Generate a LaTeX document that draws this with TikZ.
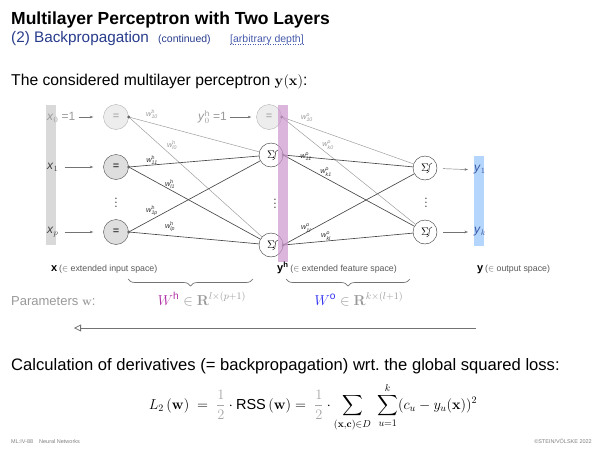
\documentclass[tikz,border=0pt]{standalone}
\usepackage{amsmath}
\usepackage[no-math]{fontspec}
\setmainfont{Liberation Sans}
\usetikzlibrary{arrows.meta,decorations.pathreplacing}

\definecolor{slideblue}{RGB}{40,60,140}
\definecolor{linkblue}{RGB}{70,90,170}
\definecolor{barpurple}{RGB}{205,150,205}
\definecolor{barblue}{RGB}{180,214,252}
\definecolor{wpurple}{RGB}{175,45,165}
\definecolor{wblue}{RGB}{45,45,240}
\definecolor{ylabel}{RGB}{55,85,165}

\newcommand{\wgt}[2]{$\textit{w}^{\textup{#1}}_{\textit{#2}}$}
\newcommand{\fsz}[1]{\fontsize{#1}{#1}\selectfont}

\begin{document}
\begin{tikzpicture}[
    x=1pt, y=-1pt,
    inode/.style={circle, draw=black!70, fill=black!13, minimum size=25pt, inner sep=0pt, font=\fsz{11}},
    biasnode/.style={inode, draw=black!30, fill=black!7, text=black!40},
    neuron/.style={circle, draw=black!80, fill=white, minimum size=24pt, inner sep=0pt, font=\fsz{11},
        path picture={\draw[line width=0.5pt] ([shift={(1.5pt,-5pt)}]path picture bounding box.center)
            .. controls ([shift={(6.5pt,-5pt)}]path picture bounding box.center)
            and ([shift={(2pt,5pt)}]path picture bounding box.center)
            .. ([shift={(7pt,5pt)}]path picture bounding box.center);}},
    outdot/.style={circle, fill=black!60, inner sep=0pt, minimum size=3.2pt},
    wire/.style={black!72, line width=0.65pt},
    biaswire/.style={black!38, line width=0.5pt},
    wlabel/.style={font=\fsz{7.5}, inner sep=0pt, text=black!80},
    wbias/.style={wlabel, text=black!40},
    feed/.style={-{Stealth[length=3.5pt,width=2.5pt]}, black!55, line width=0.45pt},
    inlabel/.style={font=\fsz{12}, inner sep=1pt, text=black!75},
    layerdots/.style={font=\fsz{12}, inner sep=0pt, text=black!75},
    spacelabel/.style={anchor=base west, inner sep=0pt, font=\fsz{11}\bfseries},
    brace/.style={decorate, decoration={brace, amplitude=7pt}, black!55, line width=0.7pt},
    backarrow/.style={-{Triangle[open, length=7pt, width=7pt]}, black!55, line width=0.8pt}
]
    % --- Header ---
    \node[anchor=base west, inner sep=0pt, font=\fsz{17.5}\bfseries] (title) at (11,24) {Multilayer Perceptron with Two Layers};
    \node[anchor=base west, inner sep=0pt, font=\fsz{15.3}, text=slideblue] (sub) at (11,42) {(2) Backpropagation};
    \node[anchor=base west, inner sep=0pt, font=\fsz{10.5}, text=slideblue] (cont) at (158,42) {(continued)};
    \node[anchor=base west, inner sep=0pt, font=\fsz{10.5}, text=linkblue] (depth) at (230,42) {[arbitrary depth]};
    \draw[linkblue, dotted, line width=0.5pt] ([yshift=-2pt]depth.base west) -- ([yshift=-2pt]depth.base east);

    \node[anchor=base west, inner sep=0pt, font=\fsz{15.7}] (intro) at (11,85) {The considered multilayer perceptron $\mathbf{y}(\mathbf{x})$:};

    % --- Input layer ---
    \fill[black!15] (46,105) rectangle (56,245);
    \node[inlabel, anchor=west, text=black!40] (lx0) at (46,117) {\textit{x}$_0$ =1};
    \node[inlabel, anchor=west] (lx1) at (46,167) {\textit{x}$_1$};
    \node[inlabel, anchor=west] (lxp) at (46,232) {\textit{x}$_p$};

    \node[biasnode] (i0) at (116,117) {=};
    \node[inode] (i1) at (116,167) {=};
    \node[inode] (ip) at (116,232) {=};
    \node[layerdots] (idots) at (116,200) {$\vdots$};

    \draw[feed, shorten <=2pt, shorten >=10pt] (lx0) -- (i0);
    \draw[feed, shorten <=5pt, shorten >=10pt] (lx1) -- (i1);
    \draw[feed, shorten <=5pt, shorten >=10pt] (lxp) -- (ip);

    % --- Hidden layer ---
    \node[inlabel, anchor=west, text=black!40] (ly0) at (197,117) {\textit{y}$^{\textup{h}}_0$ =1};
    \node[biasnode] (hb) at (269,117) {=};
    \node[neuron] (h1) at (271,155) {$\Sigma$\hspace{10pt}};
    \node[neuron] (hl) at (271,245) {$\Sigma$\hspace{10pt}};
    \node[layerdots] (hdots) at (275,201) {$\vdots$};
    \draw[feed, shorten <=2pt, shorten >=5pt] (ly0) -- (hb);

    % input -> hidden
    \draw[biaswire] (i0.east) -- (h1);
    \draw[biaswire] (i0.east) -- (hl);
    \draw[wire] (i1.east) -- (h1);
    \draw[wire] (i1.east) -- (hl);
    \draw[wire] (ip.east) -- (h1);
    \draw[wire] (ip.east) -- (hl);

    \node[outdot] (di0) at (i0.east) {};
    \node[outdot] (di1) at (i1.east) {};
    \node[outdot] (dip) at (ip.east) {};

    \node[wbias] (w10h) at (152,114) {\wgt{h}{10}};
    \node[wbias] (wl0h) at (172,145) {\wgt{h}{l0}};
    \node[wlabel] (w11h) at (152,160) {\wgt{h}{11}};
    \node[wlabel] (wl1h) at (170,184) {\wgt{h}{l1}};
    \node[wlabel] (w1ph) at (152,211) {\wgt{h}{1p}};
    \node[wlabel] (wlph) at (170,227) {\wgt{h}{lp}};

    % --- Output layer ---
    \node[neuron] (o1) at (425,168) {$\Sigma$\hspace{10pt}};
    \node[neuron] (ok) at (425,232) {$\Sigma$\hspace{10pt}};
    \node[layerdots] (odots) at (426,200) {$\vdots$};

    % hidden -> output
    \draw[biaswire] (hb.east) -- (o1);
    \draw[biaswire] (hb.east) -- (ok);
    \draw[wire] (h1.east) -- (o1);
    \draw[wire] (h1.east) -- (ok);
    \draw[wire] (hl.east) -- (o1);
    \draw[wire] (hl.east) -- (ok);

    \node[outdot] (dhb) at (hb.east) {};
    \node[outdot] (dh1) at (h1.east) {};
    \node[outdot] (dhl) at (hl.east) {};

    \fill[barpurple, opacity=0.7] (278,105) rectangle (288,262);

    \node[wbias] (w10o) at (307,118) {\wgt{o}{10}};
    \node[wbias] (wk0o) at (328,145) {\wgt{o}{k0}};
    \node[wlabel] (w11o) at (306,157) {\wgt{o}{11}};
    \node[wlabel] (wk1o) at (326,172) {\wgt{o}{k1}};
    \node[wlabel] (w1lo) at (306,228) {\wgt{o}{1l}};
    \node[wlabel] (wklo) at (326,236) {\wgt{o}{kl}};

    \fill[barblue] (474,156) rectangle (484,246);
    \node[inlabel, anchor=west, text=ylabel] (ly1) at (473,170) {\textit{y}$_1$};
    \node[inlabel, anchor=west, text=ylabel] (lyk) at (473,232) {\textit{y}$_k$};
    \draw[feed, shorten <=6pt, shorten >=5pt] (o1) -- (ly1);
    \draw[feed, shorten <=6pt, shorten >=5pt] (ok) -- (lyk);

    % --- Spaces ---
    \node[spacelabel] (sx) at (51,271) {x\,{\mdseries\fsz{8.8}\color{black!65}($\in$ extended input space)}};
    \node[spacelabel] (sh) at (277,271) {y$^{\textup{h}}$\,{\mdseries\fsz{8.8}\color{black!65}($\in$ extended feature space)}};
    \node[spacelabel] (sy) at (477,271) {y\,{\mdseries\fsz{8.8}\color{black!65}($\in$ output space)}};

    % --- Parameters ---
    \draw[brace] (253,279) -- (128,279);
    \draw[brace] (410,279) -- (286,279);
    \node[anchor=base west, inner sep=0pt, font=\fsz{13}, text=black!40] (par) at (11,305) {Parameters $\mathbf{w}$:};
    \node[anchor=base, inner sep=0pt, font=\fsz{14.5}, text=black!40] (wh) at (202,305) {$\textcolor{wpurple}{W^{\text{h}}}\in\mathbf{R}^{l\times(p+1)}$};
    \node[anchor=base, inner sep=0pt, font=\fsz{14.5}, text=black!40] (wo) at (359,305) {$\textcolor{wblue}{W^{\text{o}}}\in\mathbf{R}^{k\times(l+1)}$};

    \coordinate (bstart) at (476,328);
    \coordinate (bend) at (74,328);
    \draw[backarrow] (bstart) -- (bend);

    % --- Loss ---
    \node[anchor=base west, inner sep=0pt, font=\fsz{16.6}] (calc) at (11,370) {Calculation of derivatives (= backpropagation) wrt.\ the global squared loss:};
    \node[inner sep=0pt, font=\fsz{14.5}] (loss) at (313,407) {$\displaystyle L_2\left(\mathbf{w}\right)\;=\;\textcolor{black!35}{\frac{1}{2}}\cdot\text{RSS}\left(\mathbf{w}\right)=\;\textcolor{black!35}{\frac{1}{2}}\cdot\sum_{(\mathbf{x},\mathbf{c})\in D}\;\sum_{u=1}^{k}(c_u-y_u(\mathbf{x}))^2$};

    % --- Footer ---
    \node[anchor=base west, inner sep=0pt, font=\fsz{5.5}, text=black!50] (foot) at (11,443) {ML:IV-88\hspace{6pt}Neural Networks};
    \node[anchor=base east, inner sep=0pt, font=\fsz{5.5}, text=black!50] (copy) at (592,443) {©STEIN/VÖLSKE 2022};

    \useasboundingbox (0,0) rectangle (600,450);
\end{tikzpicture}
\end{document}
